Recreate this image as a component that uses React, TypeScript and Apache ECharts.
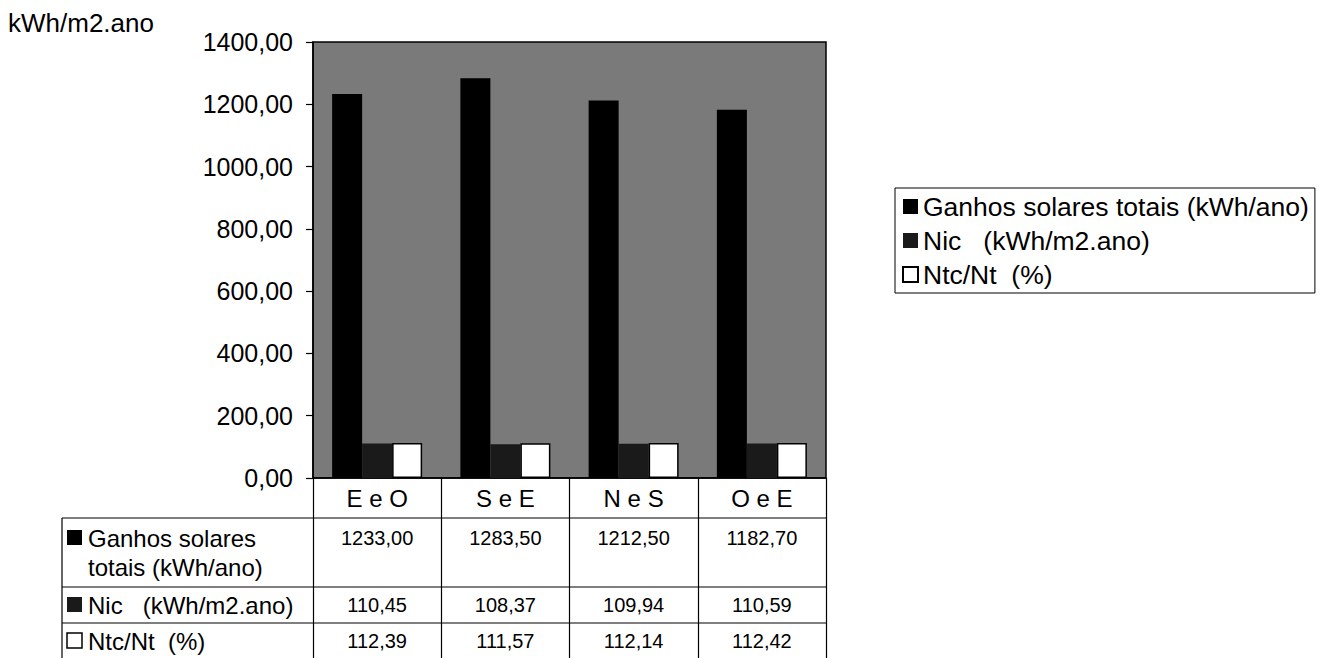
import React, { useEffect, useRef } from "react";
import * as echarts from "echarts";

const categories = ["E e O", "S e E", "N e S", "O e E"];
const ganhos = [1233.0, 1283.5, 1212.5, 1182.7];
const nic = [110.45, 108.37, 109.94, 110.59];
const ntc = [112.39, 111.57, 112.14, 112.42];
const seriesNames = ["Ganhos solares totais (kWh/ano)", "Nic   (kWh/m2.ano)", "Ntc/Nt  (%)"];
const rowLabels = [["Ganhos solares", "totais (kWh/ano)"], ["Nic   (kWh/m2.ano)"], ["Ntc/Nt  (%)"]];
const yTicks = { min: 0, max: 1400, interval: 200 };
const unitLabel = "kWh/m2.ano";

const FONT = 'Arial, "Liberation Sans", Helvetica, sans-serif';
const GRID = { left: 313, top: 42, width: 513, height: 436 };
const TABLE_LEFT = 62;
const ROW_LINES = [518, 587, 623];
const ROW_TEXT_Y = [[538, 567], [605], [641]];
const COLORS = ["#000000", "#1a1a1a", "#ffffff"];

const fmt = (v: number) => v.toFixed(2).replace(".", ",");
const sp = (s: string) => s.replace(/ /g, "\u00a0");

export default function App() {
  const ref = useRef<HTMLDivElement>(null);
  useEffect(() => {
    document.body.style.margin = "0";
    const chart = echarts.init(ref.current!, null, { renderer: "svg" });
    const right = GRID.left + GRID.width;
    const colW = GRID.width / categories.length;
    const data = [ganhos, nic, ntc];

    const graphic: any[] = [];
    graphic.push({
      type: "text",
      left: 8,
      top: 10,
      style: { text: unitLabel, font: `26px ${FONT}`, fill: "#000" },
    });
    ROW_LINES.forEach((y) => {
      graphic.push({
        type: "line",
        shape: { x1: TABLE_LEFT, y1: y, x2: right, y2: y },
        style: { stroke: "#000", lineWidth: 1.2 },
      });
    });
    graphic.push({
      type: "line",
      shape: { x1: TABLE_LEFT, y1: ROW_LINES[0], x2: TABLE_LEFT, y2: 658 },
      style: { stroke: "#000", lineWidth: 1.2 },
    });
    rowLabels.forEach((lines, r) => {
      const yc = ROW_TEXT_Y[r][0];
      graphic.push({
        type: "rect",
        shape: { x: 67, y: yc - 8, width: 15, height: 15 },
        style: { fill: COLORS[r], stroke: "#000", lineWidth: r === 2 ? 1.5 : 0 },
      });
      lines.forEach((t, k) => {
        graphic.push({
          type: "text",
          x: 88,
          y: ROW_TEXT_Y[r][k],
          style: { text: sp(t), font: `24px ${FONT}`, fill: "#000", verticalAlign: "middle", align: "left" },
        });
      });
      data[r].forEach((v, i) => {
        graphic.push({
          type: "text",
          x: GRID.left + (i + 0.5) * colW,
          y: yc,
          style: { text: fmt(v), font: `20px ${FONT}`, fill: "#000", verticalAlign: "middle", align: "center" },
        });
      });
    });

    chart.setOption({
      animation: false,
      textStyle: { fontFamily: FONT },
      grid: {
        ...GRID,
        show: true,
        backgroundColor: "#7a7a7a",
        borderColor: "#000",
        borderWidth: 1.5,
        containLabel: false,
      },
      legend: {
        orient: "vertical",
        left: 895,
        top: 188,
        padding: [5, 6, 5, 7],
        itemWidth: 15,
        itemHeight: 15,
        itemGap: 7,
        icon: "rect",
        borderColor: "#000",
        borderWidth: 1,
        backgroundColor: "#fff",
        formatter: (n: string) => sp(n),
        textStyle: { fontSize: 26.5, lineHeight: 26, color: "#000", fontFamily: FONT },
        data: seriesNames,
      },
      xAxis: {
        type: "category",
        data: categories,
        axisLine: { show: true, lineStyle: { color: "#000", width: 1.5 } },
        axisTick: { show: true, length: 182, lineStyle: { color: "#000", width: 1.2 } },
        axisLabel: {
          show: true,
          margin: 8,
          fontSize: 24,
          color: "#000",
          fontFamily: FONT,
          formatter: (v: string) => sp(v),
        },
      },
      yAxis: {
        type: "value",
        min: yTicks.min,
        max: yTicks.max,
        interval: yTicks.interval,
        axisLine: { show: true, lineStyle: { color: "#000", width: 1.5 } },
        axisTick: { show: true, length: 7, lineStyle: { color: "#000", width: 1.2 } },
        splitLine: { show: false },
        axisLabel: { margin: 20, fontSize: 25, color: "#000", fontFamily: FONT, formatter: (v: number) => fmt(v) },
      },
      series: seriesNames.map((name, r) => ({
        name,
        type: "bar",
        data: data[r],
        barWidth: 30,
        barGap: "0%",
        itemStyle: {
          color: COLORS[r],
          borderColor: "#000",
          borderWidth: r === 2 ? 1.5 : 0,
        },
      })),
      graphic,
    });
    return () => chart.dispose();
  }, []);
  return <div ref={ref} style={{ width: 1329, height: 658 }} />;
}
